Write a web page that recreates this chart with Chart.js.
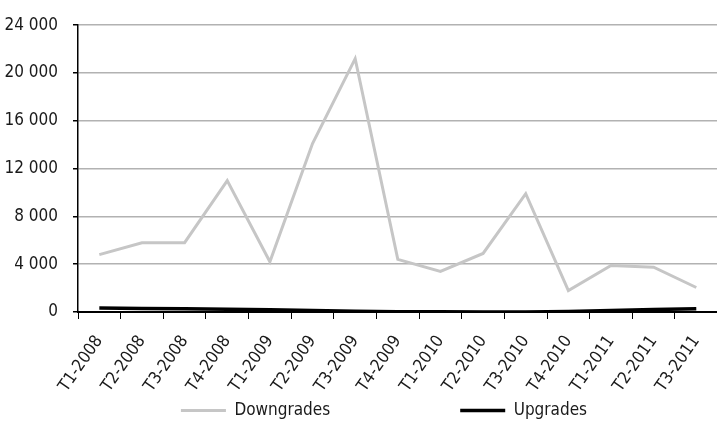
<!DOCTYPE html>
<html>
<head>
<meta charset="utf-8">
<script src="https://cdn.jsdelivr.net/npm/chart.js@4.4.1/dist/chart.umd.min.js"></script>
<style>
  html, body { margin: 0; padding: 0; background: #fff; overflow: hidden; }
  #contenedor { width: 726px; height: 423px; }
</style>
</head>
<body>
<div id="contenedor"><canvas id="grafica"></canvas></div>
<script>
// datos
const trimestres = ["T1-2008", "T2-2008", "T3-2008", "T4-2008", "T1-2009", "T2-2009", "T3-2009", "T4-2009",
  "T1-2010", "T2-2010", "T3-2010", "T4-2010", "T1-2011", "T2-2011", "T3-2011"];
const downgrades = [4800, 5800, 5800, 11000, 4200, 14100, 21200, 4400, 3400, 4900, 9900, 1800, 3900, 3750, 2050];
const upgrades = [330, 300, 270, 220, 180, 130, 60, 30, 20, 10, 10, 50, 130, 200, 280];
const ticksY = [0, 4000, 8000, 12000, 16000, 20000, 24000];

const fuente = "'Noto Sans ExtraCondensed', 'Noto Sans Condensed', 'DejaVu Sans Condensed', 'Liberation Sans Narrow', Roboto, sans-serif";
const letra = { family: fuente, size: 17 };
const sepLeyenda = 130;

function separarMiles(v) {
  return String(v).replace(/\B(?=(\d{3})+(?!\d))/g, " ");
}

// el padding de la leyenda la hace muy alta; la recolocamos tras el layout
const moverLeyenda = {
  id: "moverLeyenda",
  afterLayout(chart) {
    const ley = chart.legend;
    const alto = ley.bottom - ley.top;
    ley.top = 411 - sepLeyenda - 9;
    ley.bottom = ley.top + alto;
    ley.left += 21;
    ley.right += 21;
  }
};

new Chart(document.getElementById("grafica").getContext("2d"), {
  type: "line",
  data: {
    labels: trimestres,
    datasets: [
      {
        label: "Downgrades",
        data: downgrades,
        borderColor: "#c6c6c6",
        backgroundColor: "#c6c6c6",
        borderWidth: 3,
        pointRadius: 0,
        tension: 0
      },
      {
        label: "Upgrades",
        data: upgrades,
        borderColor: "#000000",
        backgroundColor: "#000000",
        borderWidth: 3.5,
        pointRadius: 0,
        tension: 0
      }
    ]
  },
  plugins: [moverLeyenda],
  options: {
    responsive: true,
    maintainAspectRatio: false,
    animation: false,
    layout: { padding: { top: 24, left: 0, right: 0, bottom: -(sepLeyenda + 27 + 80 + 312 - 423) } },
    plugins: {
      tooltip: { enabled: false },
      legend: {
        position: "bottom",
        labels: {
          usePointStyle: true,
          pointStyle: "line",
          pointStyleWidth: 45,
          padding: sepLeyenda,
          color: "#1a1a1a",
          font: letra
        }
      }
    },
    scales: {
      x: {
        offset: true,
        afterFit: (eje) => { eje.height = 80; },
        grid: {
          offset: true,
          drawOnChartArea: false,
          drawTicks: true,
          tickLength: 7,
          color: "#000"
        },
        border: { color: "#000", width: 2 },
        ticks: {
          minRotation: 55,
          maxRotation: 55,
          autoSkip: false,
          padding: 13,
          color: "#1a1a1a",
          font: letra
        }
      },
      y: {
        min: 0,
        max: 24000,
        afterBuildTicks: (eje) => { eje.ticks = ticksY.map(v => ({ value: v })); },
        afterFit: (eje) => { eje.width = 78; },
        grid: {
          color: "#b2b2b2",
          lineWidth: 1.5,
          tickLength: 5,
          tickColor: "#000"
        },
        border: { color: "#000", width: 1.5 },
        ticks: {
          color: "#1a1a1a",
          padding: 15,
          font: letra,
          callback: (v) => separarMiles(v)
        }
      }
    }
  }
});
</script>
</body>
</html>
